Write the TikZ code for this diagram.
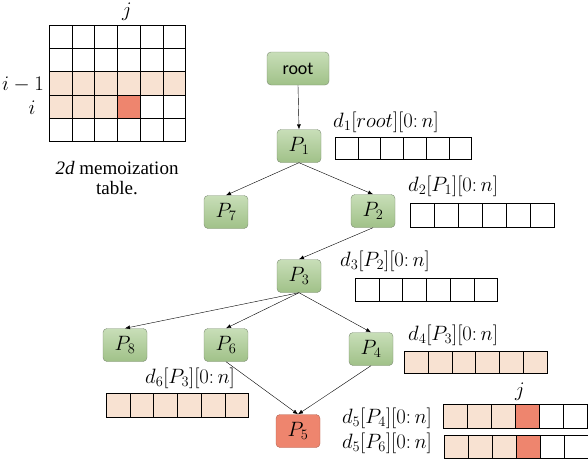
\documentclass[tikz,border=0pt]{standalone}
\usepackage{fontspec}
\setmainfont{Liberation Serif}
\newfontfamily\rootfont{Carlito}
\usetikzlibrary{arrows.meta, positioning, calc}
\definecolor{nodetop}{RGB}{200, 222, 184}
\definecolor{nodebot}{RGB}{160, 193, 136}
\definecolor{nodeedge}{RGB}{125, 140, 115}
\definecolor{memopeach}{RGB}{248, 226, 210}
\definecolor{memored}{RGB}{238, 133, 110}

\begin{document}
\begin{tikzpicture}[
    x=1pt, y=-1pt,
    tnode/.style={rectangle, rounded corners=4pt, draw=nodeedge, top color=nodetop, bottom color=nodebot, minimum width=44pt, minimum height=33pt, inner sep=0pt, font=\fontsize{21}{24}\selectfont},
    hotnode/.style={tnode, top color=memored, bottom color=memored, draw=memored!75!black},
    cell/.style={rectangle, draw=black, semithick, minimum width=24pt, minimum height=23pt, inner sep=0pt, anchor=north west},
    lbl/.style={inner sep=0pt, font=\fontsize{21}{24}\selectfont},
    arr/.style={-{Latex[length=5pt, width=4pt]}, thin, black}
]
\useasboundingbox (0,0) rectangle (588,458);

% 2d memoization table
\foreach \row [count=\r from 0] in {{white,white,white,white,white,white},{white,white,white,white,white,white},{memopeach,memopeach,memopeach,memopeach,memopeach,memopeach},{memopeach,memopeach,memopeach,memored,white,white},{white,white,white,white,white,white}}
  \foreach \c [count=\k from 0] in \row
    \node[cell, fill=\c, minimum width=22.7pt, minimum height=23.2pt] (tab-\r-\k) at ({49+\k*22.7},{25+\r*23.2}) {};
\node[lbl, font=\fontsize{20}{24}\selectfont] (tabj) at (127,12) {$j$};
\node[lbl, font=\fontsize{20}{24}\selectfont, anchor=east] (rowprev) at (44,85) {$i-1$};
\node[lbl, font=\fontsize{20}{24}\selectfont] (rowcur) at (32,108) {$i$};
\node[align=center, font=\fontsize{19}{20}\selectfont] (caption) at (117,178) {\textit{2d} memoization\\table.};

% tree nodes
\node[tnode, minimum width=62pt, font=\rootfont\fontsize{18}{20}\selectfont] (root) at (298,68.5) {root};
\node[tnode] (P1) at (299,146) {$P_1$};
\node[tnode] (P7) at (226,212) {$P_7$};
\node[tnode] (P2) at (373,211) {$P_2$};
\node[tnode] (P3) at (299,276) {$P_3$};
\node[tnode] (P8) at (125,345) {$P_8$};
\node[tnode] (P6) at (226,345) {$P_6$};
\node[tnode] (P4) at (371,349) {$P_4$};
\node[hotnode] (P5) at (298,431) {$P_5$};

% memo arrays
\foreach \c [count=\k from 0] in {white,white,white,white,white,white}
  \node[cell, fill=\c, minimum width=22.7pt, minimum height=22pt] (dA-\k) at ({335+\k*22.7},137) {};
\node[lbl, anchor=west] (dAlbl) at (333,122) {$d_1[root][0\colon n]$};

\foreach \c [count=\k from 0] in {white,white,white,white,white,white}
  \node[cell, fill=\c, minimum height=24pt] (dB-\k) at ({410+\k*24},203) {};
\node[lbl, anchor=west] (dBlbl) at (408,186) {$d_2[P_1][0\colon n]$};

\foreach \c [count=\k from 0] in {white,white,white,white,white,white}
  \node[cell, fill=\c, minimum width=23.7pt] (dC-\k) at ({355+\k*23.7},278) {};
\node[lbl, anchor=west] (dClbl) at (340,261) {$d_3[P_2][0\colon n]$};

\foreach \c [count=\k from 0] in {memopeach,memopeach,memopeach,memopeach,memopeach,memopeach}
  \node[cell, fill=\c, minimum width=23.8pt, minimum height=22pt] (dD-\k) at ({404+\k*23.8},351) {};
\node[lbl, anchor=west] (dDlbl) at (408,335) {$d_4[P_3][0\colon n]$};

\foreach \c [count=\k from 0] in {memopeach,memopeach,memopeach,memored,white,white}
  \node[cell, fill=\c, minimum height=24pt] (dE-\k) at ({443+\k*24},404) {};
\node[lbl, anchor=east] (dElbl) at (432,418) {$d_5[P_4][0\colon n]$};
\node[lbl] (dEj) at (520,392) {$j$};

\foreach \c [count=\k from 0] in {memopeach,memopeach,memopeach,memored,white,white}
  \node[cell, fill=\c] (dF-\k) at ({444+\k*24},435) {};
\node[lbl, anchor=east] (dFlbl) at (432,443) {$d_5[P_6][0\colon n]$};

\foreach \c [count=\k from 0] in {memopeach,memopeach,memopeach,memopeach,memopeach,memopeach}
  \node[cell, fill=\c, minimum width=23.7pt, minimum height=24pt] (dG-\k) at ({106+\k*23.7},393) {};
\node[lbl, anchor=west] (dGlbl) at (145,378) {$d_6[P_3][0\colon n]$};

% edges
\draw[arr] (root.south) -- (P1.north);
\draw[arr] (P1.south) -- (P7.north);
\draw[arr] (P1.south) -- (P2.north);
\draw[arr] (P2.south) -- (P3.north);
\draw[arr] (P3.south) -- (P8.north);
\draw[arr] (P3.south) -- (P6.north);
\draw[arr] (P3.south) -- (P4.north);
\draw[arr] (P6.south) -- (P5.north);
\draw[arr] (P4.south) -- (P5.north);

\end{tikzpicture}
\end{document}
